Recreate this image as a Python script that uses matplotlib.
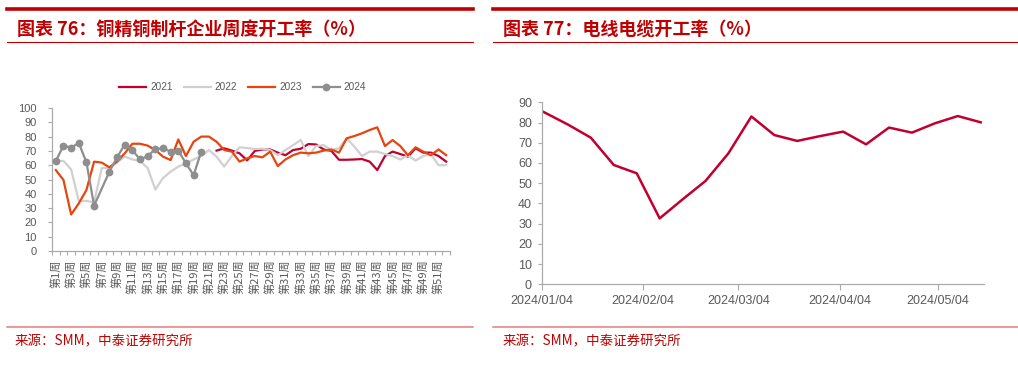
import numpy as np
import matplotlib
matplotlib.use("Agg")
import matplotlib.pyplot as plt
import matplotlib.dates as mdates
from matplotlib.lines import Line2D
import datetime as dt

plt.rcParams['font.family'] = ['Liberation Sans', 'Noto Sans CJK SC', 'DejaVu Sans']

# ---------------- data: left chart (weekly operating rate, %) ----------------
nan = np.nan
weeks = np.arange(1, 53)
week_labels = [f"第{i}周" for i in weeks]

y2021 = [nan] * 21 + [70.2, 71.8, 70.2, 68.3, 63.4, 70, 71, 71, 68.8, 67,
                      70.6, 71.5, 74.8, 74.5, 71, 70, 63.8, 63.8, 64, 64.3,
                      62.5, 56.6, 66.4, 69.5, 67.8, 66, 71.8, 68.8, 68.8, 66.4,
                      62.5]
y2022 = [63, 63, 57, 35, 35, 34, 58, 58, 62, 66,
         64, 63, 58, 43, 51, 55.5, 59, 61.3, 64, 66.4,
         70.6, 66, 59, 66.4, 72.5, 72, 71.3, 71.5, 70.6, 67,
         70.6, 74, 77.6, 66.4, 73.4, 74, 70.6, 71.8, 78.8, 73,
         66.4, 69.5, 69.5, 67.8, 66.4, 64, 67, 63.2, 66.4, 67.8,
         60, 60]
y2023 = [56.6, 49.6, 25.5, 33.3, 42.7, 62.5, 61.8, 58.5, 62.5, 68.3,
         75, 75, 73.7, 70.6, 66, 63.6, 78, 66.4, 76.4, 80,
         80, 76.4, 70.6, 69.5, 62.5, 64.8, 66.4, 65.5, 69.5, 59.4,
         64, 67, 68.8, 68.3, 68.8, 70.2, 71, 68.8, 78.8, 80.4,
         82.3, 84.6, 86.5, 73.4, 77.6, 73.4, 67, 72.5, 69.5, 67,
         71, 67]
y2024 = [63, 73.7, 72.3, 75.5, 62, 31.7, nan, 55.5, 65.5, 74.4,
         70.6, 64, 66.4, 71.3, 71.8, 69.5, 70.2, 61.3, 53, 69.5] + [nan] * 32
series_names = ["2021", "2022", "2023", "2024"]

# ---------------- data: right chart (wire & cable operating rate, %) ----------------
cable_dates = ["2024-01-04", "2024-01-12", "2024-01-19", "2024-01-26", "2024-02-02",
               "2024-02-09", "2024-02-16", "2024-02-23", "2024-03-01", "2024-03-08",
               "2024-03-15", "2024-03-22", "2024-03-29", "2024-04-05", "2024-04-12",
               "2024-04-19", "2024-04-26", "2024-05-03", "2024-05-10", "2024-05-17"]
cable_values = [85.7, 79, 72.5, 59, 54.9, 32.6, 42, 51.1, 64.8, 83,
                73.8, 70.9, 73.3, 75.5, 69.2, 77.5, 75, 79.6, 83.2, 80.1]
cable_ticks = ["2024-01-04", "2024-02-04", "2024-03-04", "2024-04-04", "2024-05-04"]

# ---------------- styling ----------------
RED = "#C00000"
C2021 = "#C2002F"
C2022 = "#D0D0D0"
C2023 = "#E6450F"
C2024 = "#8E8E8E"
AXC = "#ABABAB"
TXT = "#595959"

W, H = 1018, 365
fig = plt.figure(figsize=(W / 100, H / 100), dpi=100)
fig.patch.set_facecolor("white")

def fx(px):
    return px / W

def fy(py):
    return 1 - py / H

# decorative header / footer lines
for x0, x1 in [(7, 473), (493, 1018)]:
    fig.add_artist(Line2D([fx(x0), fx(x1)], [fy(9), fy(9)], color=RED, lw=2.6,
                          transform=fig.transFigure))
    fig.add_artist(Line2D([fx(x0), fx(x1)], [fy(42.3), fy(42.3)], color=RED, lw=0.8,
                          transform=fig.transFigure))
    fig.add_artist(Line2D([fx(x0), fx(x1)], [fy(327), fy(327)], color="#E77C7C", lw=1.1,
                          transform=fig.transFigure))

fig.text(fx(17), fy(29), "图表 76：铜精铜制杆企业周度开工率（%）", color=RED, fontsize=13,
         fontweight="bold", style="italic", family=["Noto Sans CJK SC", "DejaVu Sans"],
         ha="left", va="center")
fig.text(fx(503), fy(29), "图表 77：电线电缆开工率（%）", color=RED, fontsize=13,
         fontweight="bold", style="italic", family=["Noto Sans CJK SC", "DejaVu Sans"],
         ha="left", va="center")
fig.text(fx(15), fy(341), "来源：SMM，中泰证券研究所", color=RED, fontsize=9.7,
         family=["Noto Sans CJK SC", "DejaVu Sans"], ha="left", va="center")
fig.text(fx(503), fy(341), "来源：SMM，中泰证券研究所", color=RED, fontsize=9.7,
         family=["Noto Sans CJK SC", "DejaVu Sans"], ha="left", va="center")

# ---------------- left chart ----------------
ax1 = fig.add_axes([fx(52), fy(251), fx(450) - fx(52), fy(108) - fy(251)])
ax1.set_facecolor("white")
colors = [C2021, C2022, C2023, C2024]
for name, vals, c in zip(series_names, [y2021, y2022, y2023, y2024], colors):
    arr = np.array(vals, dtype=float)
    m = ~np.isnan(arr)
    if name == "2024":
        ax1.plot(weeks[m], arr[m], color=c, lw=1.6, marker="o", markersize=5.6,
                 markeredgewidth=0, label=name, zorder=5)
    else:
        ax1.plot(weeks[m], arr[m], color=c, lw=1.6, label=name)

ax1.set_xlim(0.5, 52.5)
ax1.set_ylim(0, 100)
ax1.set_yticks(np.arange(0, 101, 10))
ax1.set_xticks(weeks[::2])
ax1.set_xticklabels(week_labels[::2], rotation=90,
                    family=["Noto Sans CJK SC", "DejaVu Sans"], fontsize=8, color=TXT)
ax1.set_xticks(np.arange(0.5, 53, 1), minor=True)
ax1.tick_params(axis="x", which="major", length=0, pad=6)
ax1.tick_params(axis="x", which="minor", length=3, color=AXC, width=0.8)
ax1.tick_params(axis="y", length=3, color=AXC, width=0.8, labelsize=8, labelcolor=TXT, pad=8)
for s in ["top", "right"]:
    ax1.spines[s].set_visible(False)
for s in ["left", "bottom"]:
    ax1.spines[s].set_color(AXC)
    ax1.spines[s].set_linewidth(0.9)

leg = ax1.legend(ncol=4, loc="center", bbox_to_anchor=(fx(242.5), fy(87)),
                 bbox_transform=fig.transFigure, frameon=False, fontsize=7.2,
                 handlelength=2.7, handletextpad=0.4, columnspacing=1.1)
for t in leg.get_texts():
    t.set_color(TXT)

# ---------------- right chart ----------------
ax2 = fig.add_axes([fx(541.7), fy(284.3), fx(984) - fx(541.7), fy(102.3) - fy(284.3)])
ax2.set_facecolor("white")
d = [dt.datetime.strptime(s, "%Y-%m-%d") for s in cable_dates]
ax2.plot(d, cable_values, color=C2021, lw=1.8)
ax2.set_ylim(0, 90)
ax2.set_yticks(np.arange(0, 91, 10))
ax2.set_xlim(dt.datetime(2024, 1, 4), dt.datetime(2024, 5, 18))
ax2.set_xticks([dt.datetime.strptime(s, "%Y-%m-%d") for s in cable_ticks])
ax2.xaxis.set_major_formatter(mdates.DateFormatter("%Y/%m/%d"))
ax2.tick_params(axis="x", length=4, color=AXC, width=0.8, labelsize=9, labelcolor=TXT, pad=4)
ax2.tick_params(axis="y", length=3, color=AXC, width=0.8, labelsize=9, labelcolor=TXT, pad=4)
for s in ["top", "right"]:
    ax2.spines[s].set_visible(False)
for s in ["left", "bottom"]:
    ax2.spines[s].set_color(AXC)
    ax2.spines[s].set_linewidth(0.9)

fig.savefig("out.png", dpi=100, facecolor="white")
